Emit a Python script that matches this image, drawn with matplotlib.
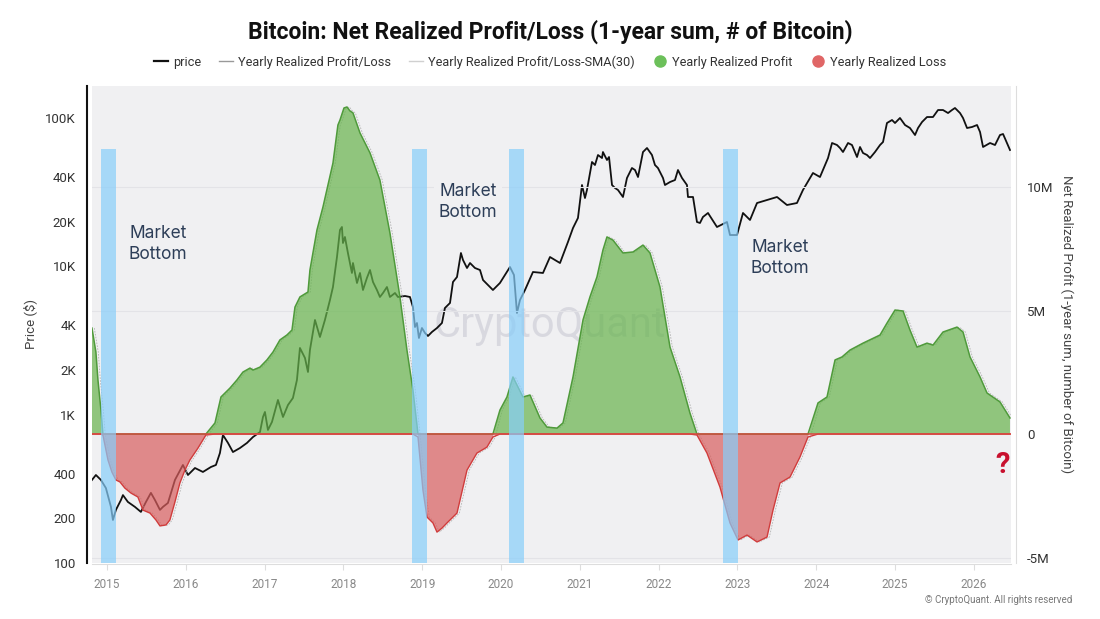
import numpy as np
import matplotlib
matplotlib.use("Agg")
import matplotlib.pyplot as plt
from matplotlib.lines import Line2D

plt.rcParams['font.family'] = ['Roboto', 'DejaVu Sans']

# ---- data ----
# bitcoin price, decimal year / USD
price_year = [2014.810, 2014.860, 2014.924, 2014.987, 2015.051, 2015.076, 2015.114, 2015.178, 2015.203, 2015.266,
              2015.355, 2015.431, 2015.495, 2015.558, 2015.609, 2015.673, 2015.711, 2015.774, 2015.863, 2015.964,
              2016.028, 2016.117, 2016.218, 2016.320, 2016.383, 2016.434, 2016.472, 2016.536, 2016.599, 2016.688,
              2016.777, 2016.853, 2016.942, 2016.980, 2017.005, 2017.043, 2017.094, 2017.170, 2017.234, 2017.297,
              2017.360, 2017.411, 2017.449, 2017.513, 2017.551, 2017.576, 2017.640, 2017.703, 2017.766,
              2017.830, 2017.868, 2017.919, 2017.957, 2017.982, 2017.995, 2018.020, 2018.058, 2018.109, 2018.122,
              2018.173, 2018.211, 2018.249, 2018.299, 2018.338, 2018.376, 2018.426, 2018.464, 2018.503, 2018.553,
              2018.591, 2018.655, 2018.693, 2018.782, 2018.845, 2018.883, 2018.909, 2018.934, 2018.959, 2018.997,
              2019.036, 2019.074, 2019.124, 2019.188, 2019.251, 2019.289, 2019.353, 2019.391, 2019.442, 2019.492,
              2019.518, 2019.569, 2019.607, 2019.670, 2019.734,
              2019.772, 2019.898, 2019.987, 2020.114, 2020.165, 2020.203, 2020.241, 2020.305, 2020.406, 2020.533,
              2020.622, 2020.749,
              2020.850, 2020.914, 2020.977, 2021.028, 2021.066, 2021.091, 2021.155, 2021.193, 2021.231, 2021.282,
              2021.294, 2021.345, 2021.371, 2021.409, 2021.447, 2021.485, 2021.548, 2021.599, 2021.662, 2021.701,
              2021.739, 2021.802, 2021.853, 2021.916, 2021.954, 2021.992, 2022.056, 2022.081, 2022.145, 2022.208,
              2022.246, 2022.297, 2022.360, 2022.373, 2022.437, 2022.487, 2022.525, 2022.563, 2022.627,
              2022.741, 2022.868, 2022.906, 2022.995, 2023.071, 2023.160, 2023.249, 2023.376, 2023.503, 2023.629,
              2023.756, 2023.832, 2023.959, 2024.048,
              2024.112, 2024.150, 2024.201, 2024.264, 2024.302, 2024.340, 2024.404, 2024.454, 2024.518, 2024.556,
              2024.594, 2024.645, 2024.683, 2024.746, 2024.810, 2024.848, 2024.898, 2024.962, 2025.000, 2025.063,
              2025.127, 2025.190, 2025.254, 2025.292, 2025.343, 2025.406, 2025.482, 2025.546, 2025.609, 2025.673,
              2025.723, 2025.761, 2025.825, 2025.863, 2025.914, 2025.977, 2026.041, 2026.079, 2026.117, 2026.206,
              2026.269, 2026.332, 2026.371, 2026.421, 2026.459]
price_usd = [363, 392, 363, 320, 239, 195, 228, 266, 287, 258,
             239, 221, 258, 297, 266, 228, 239, 254, 363, 458,
             392, 437, 411, 444, 458, 552, 730, 645, 560, 596,
             645, 707, 764, 965, 1043, 789, 893, 1257, 965, 1162,
             1296, 1714, 2818, 2412, 1941, 2731, 4351, 3342, 4351,
             5934, 7262, 11570, 17600, 18440, 14380, 15790, 12310, 9029, 10540,
             7730, 9029, 6933, 8353, 9456, 7851, 6933, 6220, 6616, 7262,
             6220, 6616, 6220, 6316, 6220, 5325, 3903, 4153, 3290, 3842,
             3555, 3394, 3612, 3842, 4153, 5243, 5665, 7851, 8484, 12310,
             11050, 9754, 10540, 9754, 9456,
             8097, 6933, 7730, 9908, 8750, 4852, 5934, 6933, 9168, 9029,
             11570, 10540,
             14610, 18150, 21210, 35390, 28920, 32750, 50580, 48290, 56390, 53810,
             59060, 52190, 54660, 35390, 33790, 32750, 29380, 39460, 46080, 44670,
             40070, 59060, 62860, 56390, 48290, 46080, 39460, 35390, 37080, 38240,
             44670, 39460, 35390, 29380, 29380, 19930, 19620, 21540, 22920,
             18440, 19930, 16280, 16280, 22920, 20560, 26760, 28030, 29380, 25940,
             26760, 32750, 42640, 40070,
             48290, 53810, 67950, 65860, 62860, 59060, 67950, 65860, 54660, 63860,
             58170, 56390, 53810, 59060, 65860, 69020, 92680, 97100, 92680, 100200,
             89850, 85750, 76910, 85750, 94130, 101700, 101700, 113400, 113400, 108200,
             113400, 117000, 108200, 100200, 85750, 87100, 89850, 80590, 63860, 67950,
             65860, 76910, 78130, 67950, 60940]

# yearly net realized profit/loss, decimal year / million BTC
pl_year = [2014.810, 2014.860, 2014.886, 2014.924, 2014.949, 2015.013, 2015.063, 2015.114, 2015.165, 2015.228,
           2015.305, 2015.393, 2015.457, 2015.546, 2015.622, 2015.673, 2015.749, 2015.799, 2015.863, 2015.926,
           2015.990, 2016.053, 2016.155, 2016.256, 2016.371, 2016.447, 2016.561, 2016.650, 2016.726, 2016.815,
           2016.853, 2016.942, 2017.030, 2017.107, 2017.195, 2017.284, 2017.348, 2017.386, 2017.449, 2017.551,
           2017.576, 2017.665, 2017.741, 2017.868, 2017.931, 2017.957, 2018.008, 2018.046, 2018.084, 2018.122,
           2018.211, 2018.338, 2018.464, 2018.591, 2018.718, 2018.807, 2018.883, 2018.947, 2019.010, 2019.061,
           2019.137, 2019.188, 2019.251, 2019.315, 2019.442, 2019.569, 2019.695, 2019.822, 2019.898, 2019.987,
           2020.076, 2020.152, 2020.216, 2020.279, 2020.368, 2020.495, 2020.584, 2020.711, 2020.787, 2020.914,
           2021.041, 2021.129, 2021.218, 2021.294, 2021.345, 2021.421, 2021.548, 2021.675, 2021.802, 2021.891,
           2022.018, 2022.145, 2022.272, 2022.398, 2022.487, 2022.614, 2022.779, 2022.906, 2023.008, 2023.122,
           2023.249, 2023.376, 2023.452, 2023.541, 2023.668, 2023.794, 2023.896, 2024.023, 2024.137, 2024.239,
           2024.327, 2024.429, 2024.594, 2024.810, 2024.898, 2025.000, 2025.102, 2025.190, 2025.279, 2025.406,
           2025.482, 2025.609, 2025.787, 2025.863, 2025.952, 2026.079, 2026.168, 2026.332, 2026.459]
pl_m = [4.29, 3.32, 2.19, 0.97, -0.04, -1.05, -1.54, -1.86, -1.94, -2.19,
        -2.39, -2.55, -3.08, -3.20, -3.48, -3.72, -3.68, -3.48, -2.75, -1.98,
        -1.46, -1.05, -0.57, -0.04, 0.45, 1.50, 1.86, 2.19, 2.51, 2.67,
        2.59, 2.71, 3.00, 3.32, 3.81, 4.01, 4.21, 5.14, 5.55, 5.75,
        6.64, 8.26, 9.19, 10.97, 12.51, 12.71, 13.20, 13.24, 13.08, 13.00,
        12.19, 11.38, 10.28, 8.14, 5.55, 3.40, 1.78, -0.12, -2.27, -3.36,
        -3.60, -3.97, -3.81, -3.60, -3.20, -1.46, -0.77, -0.53, -0.12, 0.97,
        1.50, 2.31, 1.90, 1.50, 1.58, 0.65, 0.28, 0.24, 0.45, 2.31,
        4.62, 5.55, 6.36, 7.45, 7.98, 7.85, 7.33, 7.37, 7.65, 7.33,
        5.95, 3.52, 2.31, 0.85, -0.04, -0.77, -2.15, -3.60, -4.29, -4.09,
        -4.37, -4.17, -3.08, -1.98, -1.74, -0.93, -0.12, 1.26, 1.50, 3.00,
        3.12, 3.40, 3.68, 4.01, 4.49, 5.02, 4.98, 4.21, 3.52, 3.68,
        3.60, 4.13, 4.33, 4.13, 3.12, 2.31, 1.66, 1.30, 0.65]

# market bottom periods (decimal years)
bottom_start = [2014.92, 2018.87, 2020.10, 2022.82]
bottom_end = [2015.11, 2019.06, 2020.29, 2023.01]

years = list(range(2015, 2027))
price_ticks = [100, 200, 400, 1000, 2000, 4000, 10000, 20000, 40000, 100000]
price_labels = ['100', '200', '400', '1K', '2K', '4K', '10K', '20K', '40K', '100K']
pl_ticks = [-5, 0, 5, 10]
pl_labels = ['-5M', '0', '5M', '10M']

price_year = np.array(price_year)
pl_year = np.array(pl_year)
pl_m = np.array(pl_m)

BG = '#f0f0f2'

##figure
fig = plt.figure(figsize=(11, 6.19), dpi=100)
ax = fig.add_axes([0.0836, 0.0905, 0.8355, 0.7706])
ax2 = ax.twinx()
ax.set_facecolor(BG)
ax2.patch.set_visible(False)

# price (bottom layer)
ax.plot(price_year, price_usd, color='#111111', lw=1.3, zorder=3)
ax.set_yscale('log')
ax.set_ylim(100, 164700)
ax.set_xlim(2014.81, 2026.472)
ax.text(2020.62, 4.0e3, 'CryptoQuant', fontsize=30, color='#c9c9d3', alpha=0.6,
        ha='center', va='center', zorder=1)

# net realized profit/loss
sma_year = pl_year + 0.03   # sma(30) lags the raw series a bit
ax2.plot(sma_year, pl_m, color='#b4b4b4', lw=0.6, ls=(0, (2, 1.5)), zorder=2)
ax2.fill_between(pl_year, pl_m, 0, where=pl_m >= 0, interpolate=True,
                 color='#67b44c', alpha=0.7, lw=0, zorder=3)
ax2.fill_between(pl_year, pl_m, 0, where=pl_m <= 0, interpolate=True,
                 color='#d95e5e', alpha=0.7, lw=0, zorder=3)
ax2.plot(pl_year, np.maximum(pl_m, 0), color='#4f9a3b', lw=1.1, zorder=4)
ax2.plot(pl_year, np.minimum(pl_m, 0), color='#d03c3c', lw=1.0, zorder=4)
ax2.axhline(0, color='#d9473f', lw=1.1, zorder=5)
ax2.set_ylim(-5.22, 14.09)

# market bottom bands
for s, e in zip(bottom_start, bottom_end):
    ax2.axvspan(s, e, ymin=0, ymax=0.868, color='#87cefa', alpha=0.7, lw=0, zorder=6)

mb_font = dict(fontsize=12.5, color='#2d3e58', ha='center', va='center',
               family=['Inter', 'DejaVu Sans'], linespacing=1.3,
               bbox=dict(boxstyle='square,pad=0.25', fc=BG, ec='none'))
ax2.text(2015.65, 14.2e3, 'Market\nBottom', zorder=7, transform=ax.transData, **mb_font)
ax2.text(2019.58, 27.2e3, 'Market\nBottom', zorder=7, transform=ax.transData, **mb_font)
ax2.text(2023.54, 11.4e3, 'Market\nBottom', zorder=7, transform=ax.transData, **mb_font)

ax2.text(2026.37, -1.26, '?', fontsize=21, fontweight='bold', color='#c8102e',
         ha='center', va='center', zorder=8)

# axes styling
ax.set_xticks(years)
ax.set_xticklabels([str(y) for y in years])
ax.tick_params(axis='x', colors='#dddddd', labelcolor='#888888', labelsize=8.5, length=4, pad=6)
ax.set_yticks(price_ticks)
ax.set_yticklabels(price_labels)
ax.yaxis.set_minor_locator(matplotlib.ticker.NullLocator())
ax.tick_params(axis='y', length=0, labelsize=9.5, labelcolor='#333333', pad=8)
ax.set_ylabel('Price ($)', fontsize=9.5, color='#444444', labelpad=6)

ax2.set_yticks(pl_ticks)
ax2.set_yticklabels(pl_labels)
ax2.tick_params(axis='y', length=0, labelsize=9.5, labelcolor='#333333', pad=8)
ax2.set_ylabel('Net Realized Profit (1-year sum, number of Bitcoin)', fontsize=9.5,
               color='#444444', rotation=270, labelpad=14)
ax2.grid(axis='y', color='#e3e3e7', lw=0.8)
ax2.set_axisbelow(True)

for a in (ax, ax2):
    for side in ('top', 'left', 'right', 'bottom'):
        a.spines[side].set_visible(False)
ax.spines['left'].set_visible(True)
ax.spines['left'].set_position(('outward', 3.6))
ax.spines['left'].set_color('#111111')
ax.spines['left'].set_linewidth(1.5)
ax2.spines['right'].set_visible(True)
ax2.spines['right'].set_position(('outward', 3.6))
ax2.spines['right'].set_color('#dddddd')
ax.spines['bottom'].set_visible(True)
ax.spines['bottom'].set_position(('outward', 1))
ax.spines['bottom'].set_color('#dddddd')

# title / legend
fig.text(0.5, 0.948, 'Bitcoin: Net Realized Profit/Loss (1-year sum, # of Bitcoin)',
         ha='center', va='center', fontsize=16.5, fontweight='bold', color='#111111')
handles = [Line2D([], [], color='#111111', lw=1.6),
           Line2D([], [], color='#999999', lw=1.0),
           Line2D([], [], color='#d0d0d0', lw=1.0),
           Line2D([], [], marker='o', ls='', color='#6cc05a', markersize=8),
           Line2D([], [], marker='o', ls='', color='#e06666', markersize=8)]
labels = ['price', 'Yearly Realized Profit/Loss', 'Yearly Realized Profit/Loss-SMA(30)',
          'Yearly Realized Profit', 'Yearly Realized Loss']
fig.legend(handles, labels, loc='center', bbox_to_anchor=(0.5, 0.9), ncol=5, frameon=False,
           fontsize=9.2, handlelength=1.1, handletextpad=0.4, columnspacing=1.4,
           labelcolor='#333333')

fig.text(0.975, 0.031, '\u00a9 CryptoQuant. All rights reserved', ha='right', va='center',
         fontsize=7, color='#777777')

fig.savefig('out.png', dpi=100, facecolor='white')
